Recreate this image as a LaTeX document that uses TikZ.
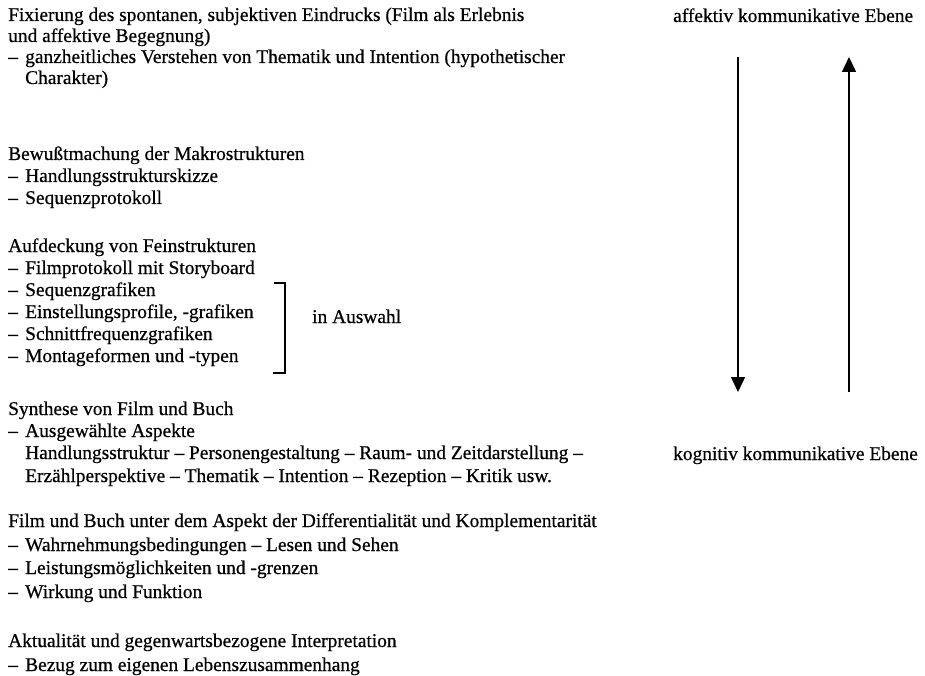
\documentclass[tikz,border=0pt]{standalone}
\usepackage{fontspec}
\setmainfont{Liberation Serif}[RawFeature={embolden=0.6}]
\usetikzlibrary{arrows.meta}
\tikzset{
  txt/.style={anchor=base west, inner sep=0pt, font=\fontsize{19.4pt}{23pt}\selectfont},
  arr/.style={line width=1.5pt, -{Triangle[length=15pt,width=14pt]}},
  brk/.style={line width=1.5pt}
}
\begin{document}
\begin{tikzpicture}[x=1pt,y=-1pt]
\useasboundingbox (0,0) rectangle (925,676);
% block 1
\node[txt] (b1a) at (8,21) {Fixierung des spontanen, subjektiven Eindrucks (Film als Erlebnis};
\node[txt] (b1b) at (8,42) {und affektive Begegnung)};
\node[txt] (b1cd) at (8,63) {–};
\node[txt] (b1c) at (25,63) {ganzheitliches Verstehen von Thematik und Intention (hypothetischer};
\node[txt] (b1d) at (25,84) {Charakter)};
% block 2
\node[txt] (b2a) at (8,160) {Bewußtmachung der Makrostrukturen};
\node[txt] (b2bd) at (8,182) {–};
\node[txt] (b2b) at (25,182) {Handlungsstrukturskizze};
\node[txt] (b2cd) at (8,204) {–};
\node[txt] (b2c) at (25,204) {Sequenzprotokoll};
% block 3
\node[txt] (b3a) at (8,252) {Aufdeckung von Feinstrukturen};
\node[txt] (b3bd) at (8,274) {–};
\node[txt] (b3b) at (25,274) {Filmprotokoll mit Storyboard};
\node[txt] (b3cd) at (8,296) {–};
\node[txt] (b3c) at (25,296) {Sequenzgrafiken};
\node[txt] (b3dd) at (8,318) {–};
\node[txt] (b3d) at (25,318) {Einstellungsprofile, -grafiken};
\node[txt] (b3ed) at (8,340) {–};
\node[txt] (b3e) at (25,340) {Schnittfrequenzgrafiken};
\node[txt] (b3fd) at (8,362) {–};
\node[txt] (b3f) at (25,362) {Montageformen und -typen};
\node[txt] (ausw) at (312,323) {in Auswahl};
\coordinate (br1) at (274,283);
\coordinate (br2) at (285,283);
\coordinate (br3) at (285,373);
\coordinate (br4) at (273,373);
\draw[brk] (br1) -- (br2) -- (br3) -- (br4);
% block 4
\node[txt] (b4a) at (8,415) {Synthese von Film und Buch};
\node[txt] (b4bd) at (8,437) {–};
\node[txt] (b4b) at (25,437) {Ausgewählte Aspekte};
\node[txt] (b4c) at (25,459) {Handlungsstruktur – Personengestaltung – Raum- und Zeitdarstellung –};
\node[txt] (b4d) at (25,482) {Erzählperspektive – Thematik – Intention – Rezeption – Kritik usw.};
% block 5
\node[txt] (b5a) at (8,527) {Film und Buch unter dem Aspekt der Differentialität und Komplementarität};
\node[txt] (b5bd) at (8,551) {–};
\node[txt] (b5b) at (25,551) {Wahrnehmungsbedingungen – Lesen und Sehen};
\node[txt] (b5cd) at (8,574) {–};
\node[txt] (b5c) at (25,574) {Leistungsmöglichkeiten und -grenzen};
\node[txt] (b5dd) at (8,598) {–};
\node[txt] (b5d) at (25,598) {Wirkung und Funktion};
% block 6
\node[txt] (b6a) at (8,647) {Aktualität und gegenwartsbezogene Interpretation};
\node[txt] (b6bd) at (8,671) {–};
\node[txt] (b6b) at (25,671) {Bezug zum eigenen Lebenszusammenhang};
% right side
\node[txt] (aff) at (673,22) {affektiv kommunikative Ebene};
\node[txt] (kog) at (673,460) {kognitiv kommunikative Ebene};
\coordinate (dTop) at (738,57);
\coordinate (dBot) at (738,392);
\coordinate (uBot) at (849,392);
\coordinate (uTop) at (849,57);
\draw[arr] (dTop) -- (dBot);
\draw[arr] (uBot) -- (uTop);
\end{tikzpicture}
\end{document}
